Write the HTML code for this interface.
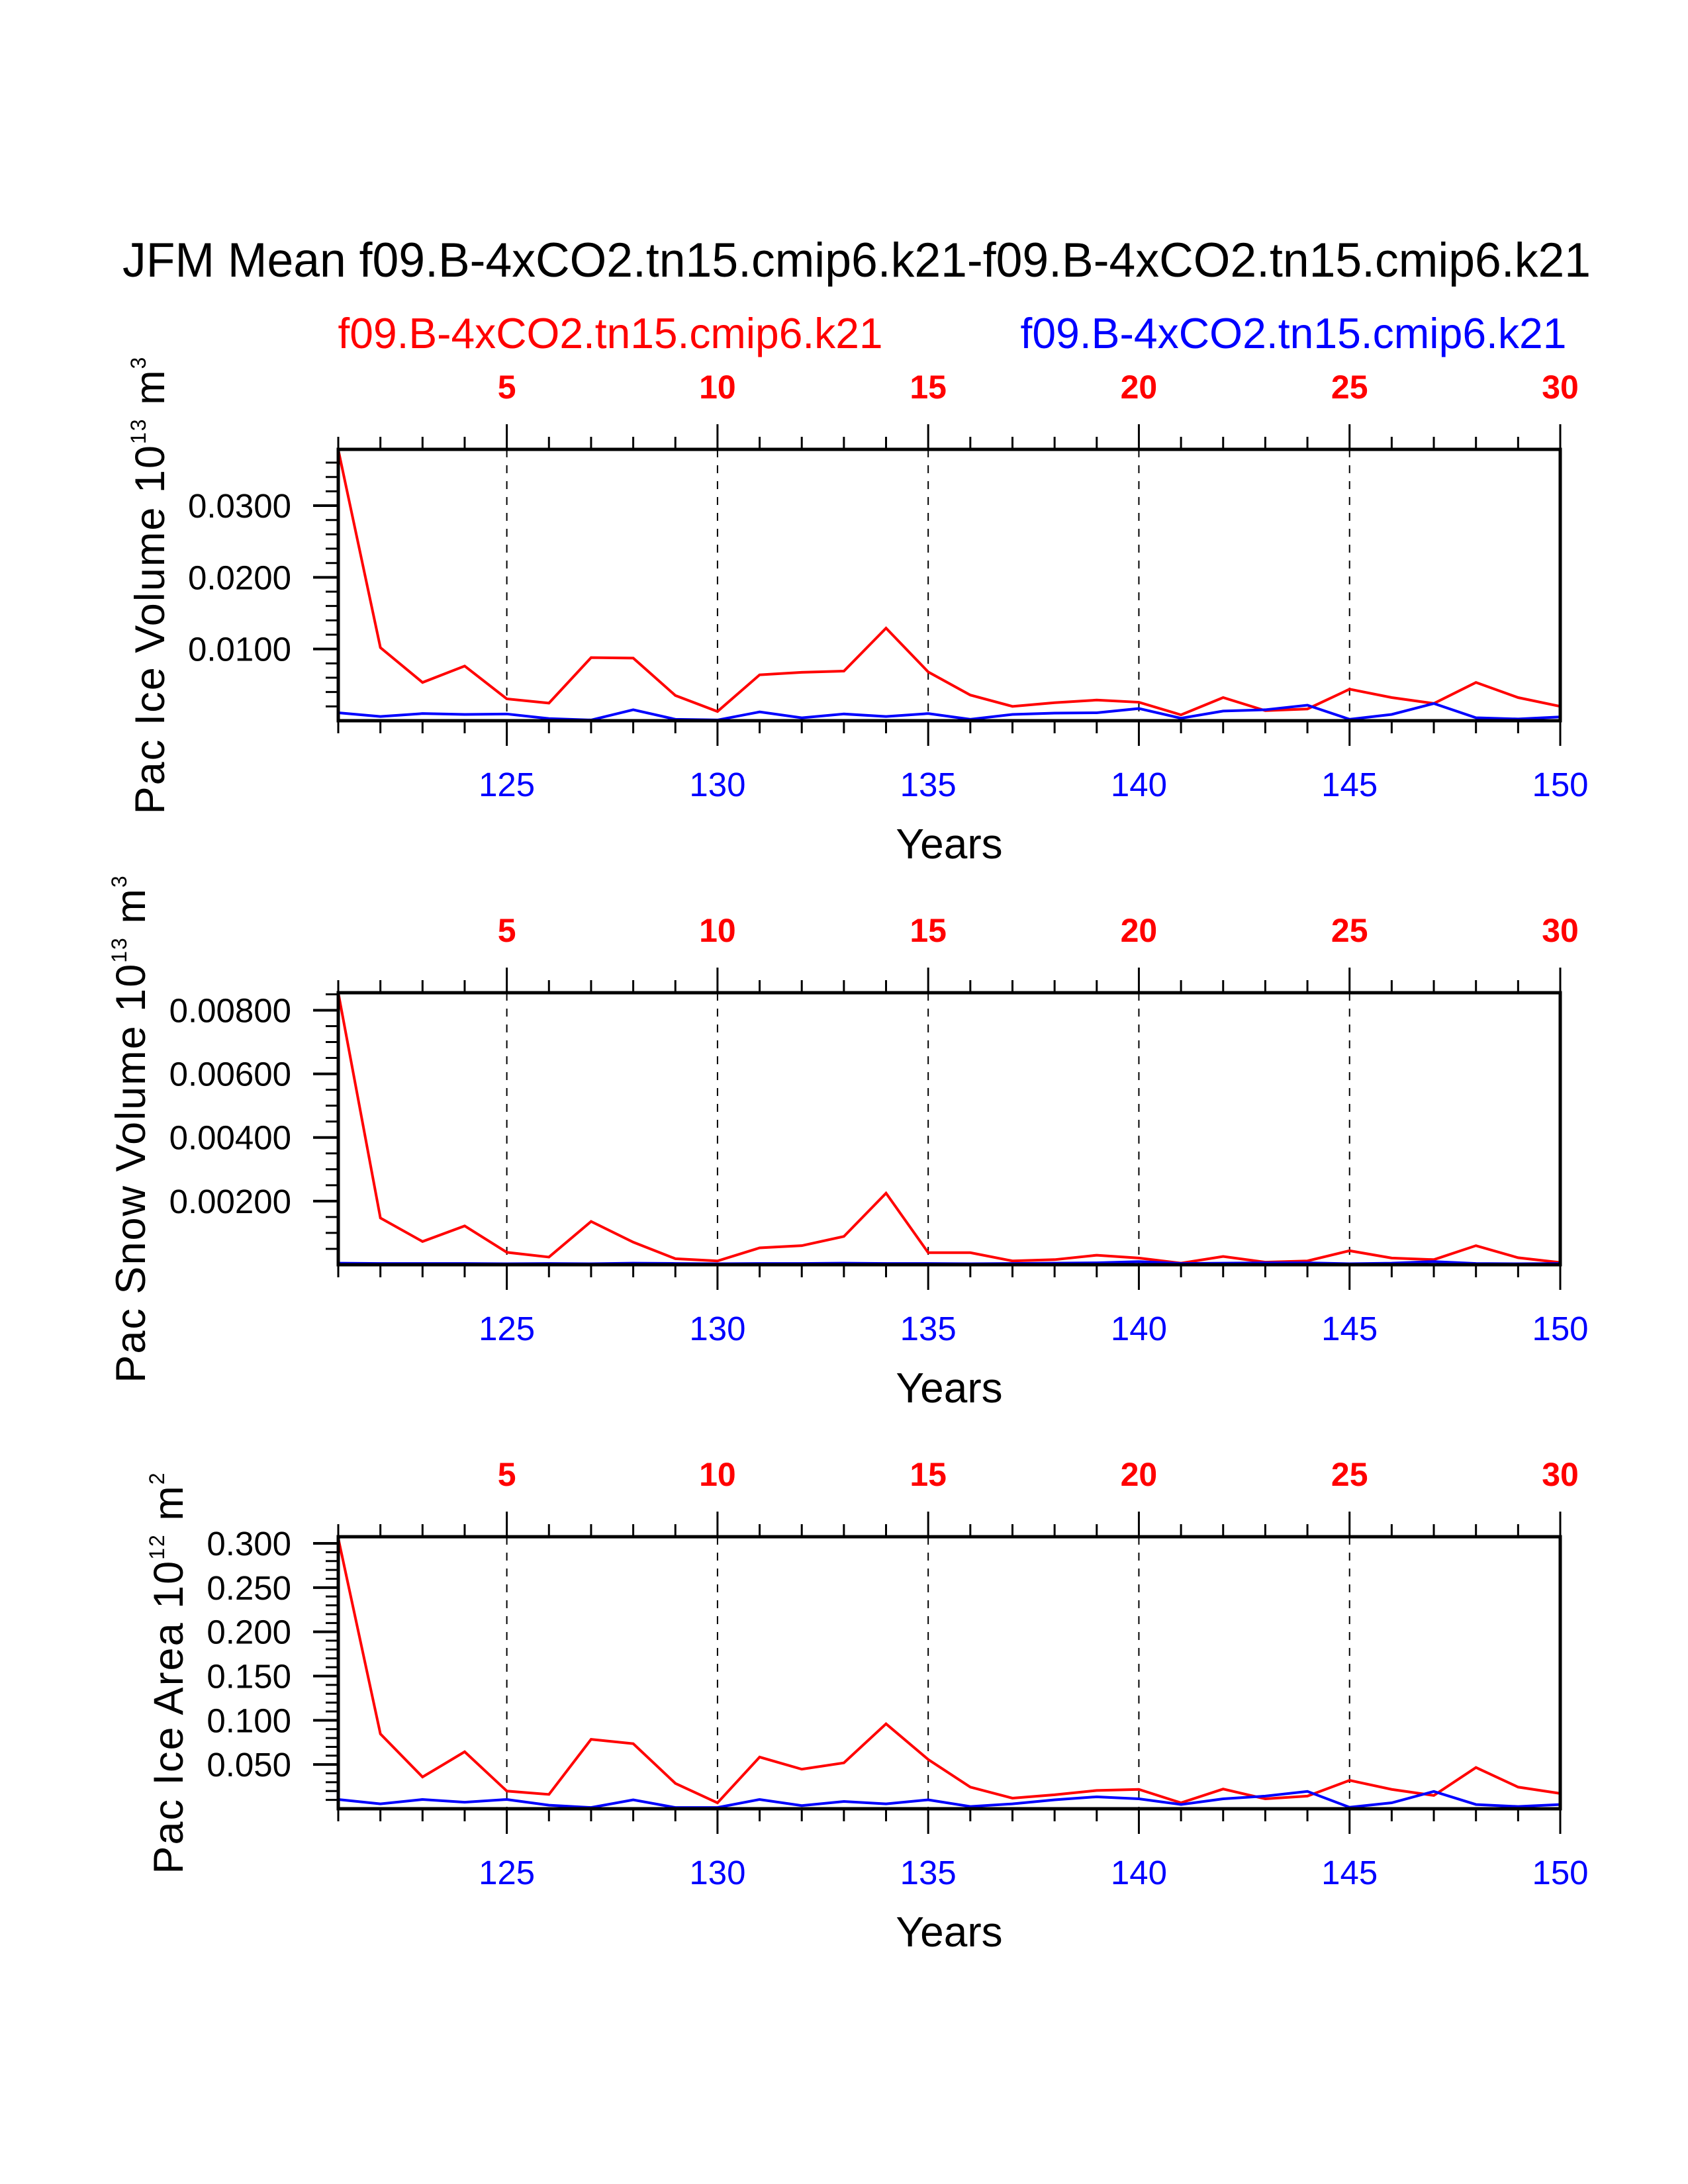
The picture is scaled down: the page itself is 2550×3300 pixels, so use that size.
<!DOCTYPE html>
<html><head><meta charset="utf-8"><style>
html,body{margin:0;padding:0;background:#fff;}
svg{display:block;font-family:"Liberation Sans",Arial,sans-serif;}
</style></head><body>
<svg id="chart" width="2550" height="3300" viewBox="0 0 2550 3300" xmlns="http://www.w3.org/2000/svg">
<rect width="2550" height="3300" fill="#fff"/>
<text x="1294" y="418" font-size="73" text-anchor="middle" textLength="2218" lengthAdjust="spacingAndGlyphs" fill="#000">JFM Mean f09.B-4xCO2.tn15.cmip6.k21-f09.B-4xCO2.tn15.cmip6.k21</text>
<text x="922" y="526" font-size="65" text-anchor="middle" textLength="823" lengthAdjust="spacingAndGlyphs" fill="#ff0000">f09.B-4xCO2.tn15.cmip6.k21</text>
<text x="1954" y="526" font-size="65" text-anchor="middle" textLength="825" lengthAdjust="spacingAndGlyphs" fill="#0000ff">f09.B-4xCO2.tn15.cmip6.k21</text>
<g id="panels"></g>
</svg>
<script>
const years = [121,122,123,124,125,126,127,128,129,130,131,132,133,134,135,136,137,138,139,140,141,142,143,144,145,146,147,148,149,150];
const iceVolRed = [0.0378,0.0102,0.00534,0.00763,0.00305,0.00246,0.0088,0.00874,0.00352,0.00129,0.0064,0.00675,0.00692,0.01291,0.00681,0.00358,0.002,0.00252,0.00288,0.00258,0.00082,0.00323,0.00141,0.00164,0.0044,0.00323,0.00241,0.00534,0.00323,0.002];
const iceVolBlue = [0.00111,0.00059,0.001,0.00088,0.00094,0.0003,0.0001,0.00153,0.0002,0.0001,0.00123,0.00041,0.00094,0.00059,0.001,0.0002,0.00088,0.00106,0.00111,0.0017,0.00035,0.00135,0.00153,0.00217,0.0002,0.00088,0.0024,0.00041,0.00024,0.00053];
const snowVolRed = [0.00855,0.00147,0.00073,0.00122,0.00039,0.00024,0.00136,0.00071,0.00019,0.00012,0.00053,0.0006,0.00089,0.00225,0.00038,0.00038,0.00012,0.00016,0.0003,0.00021,0.00005,0.00026,0.00008,0.00012,0.00044,0.00021,0.00016,0.0006,0.00022,0.00007];
const snowVolBlue = [0.00005,0.00004,0.00004,0.00004,0.00003,0.00004,0.00003,0.00005,0.00004,0.00003,0.00004,0.00004,0.00005,0.00004,0.00004,0.00003,0.00004,0.00005,0.00006,0.0001,0.00004,0.00005,0.00006,0.00006,0.00003,0.00005,0.0001,0.00004,0.00003,0.00004];
const iceAreaRed = [0.3057,0.0846,0.0359,0.0644,0.02,0.0162,0.0785,0.0736,0.0287,0.0067,0.0584,0.0447,0.0519,0.096,0.0557,0.0245,0.012,0.0158,0.0207,0.0219,0.0067,0.0223,0.0112,0.0143,0.0321,0.0219,0.015,0.0466,0.0245,0.0173];
const iceAreaBlue = [0.0105,0.0055,0.0105,0.0074,0.0105,0.004,0.0014,0.0101,0.0014,0.0014,0.0105,0.0036,0.0082,0.0055,0.0101,0.0025,0.0055,0.0101,0.0135,0.0112,0.0048,0.0112,0.0143,0.0196,0.0017,0.0067,0.0196,0.0048,0.0025,0.0048];
const topTickLabels = ["5","10","15","20","25","30"];
const bottomTickLabels = ["125","130","135","140","145","150"];
const iceVolTicks = ["0.0100","0.0200","0.0300"];
const snowVolTicks = ["0.00200","0.00400","0.00600","0.00800"];
const iceAreaTicks = ["0.050","0.100","0.150","0.200","0.250","0.300"];

const NS = "http://www.w3.org/2000/svg";
const root = document.getElementById('panels');
function mk(tag, attrs, parent){const e=document.createElementNS(NS,tag);for(const k in attrs)e.setAttribute(k,attrs[k]);parent.appendChild(e);return e;}

const X0=511, X1=2357;
function xScale(y){return X0+(y-121)*(X1-X0)/29;}

const panels = [
 {name:'ice-volume', top:679, bot:1089, ymax:0.03785, minor:0.002, ticks:iceVolTicks, red:iceVolRed, blue:iceVolBlue, ytx:248, title:['Pac Ice Volume 10','13',' m','3']},
 {name:'snow-volume', top:1500, bot:1911, ymax:0.00855, minor:0.0005, ticks:snowVolTicks, red:snowVolRed, blue:snowVolBlue, ytx:219, title:['Pac Snow Volume 10','13',' m','3']},
 {name:'ice-area', top:2322, bot:2733, ymax:0.3075, minor:0.01, ticks:iceAreaTicks, red:iceAreaRed, blue:iceAreaBlue, ytx:276, title:['Pac Ice Area 10','12',' m','2']}
];

panels.forEach(p=>{
  const g = mk('g',{},root);
  
  
  const yS = v => p.bot - v/p.ymax*(p.bot-p.top);
  years.forEach(y=>{
    if(y%5===0 && y>121 && y<150){
      const l=mk('line',{x1:xScale(y),x2:xScale(y),y1:p.top,y2:p.bot,stroke:'#000','stroke-width':2,'stroke-dasharray':'12,12'},g);
      
      
    }
  });
  years.forEach(y=>{
    const major = y%5===0; const len = major?38:19; const x=xScale(y);
    mk('line',{x1:x,x2:x,y1:p.top,y2:p.top-len,stroke:'#000','stroke-width':3},g);
    mk('line',{x1:x,x2:x,y1:p.bot,y2:p.bot+len,stroke:'#000','stroke-width':3},g);
  });
  const nMinor = Math.floor(p.ymax/p.minor+1e-6);
  for(let i=1;i<=nMinor;i++){
    const v=i*p.minor; const yy=yS(v);
    const major = p.ticks.some(t=>Math.abs(parseFloat(t)-v)<p.minor/10);
    mk('line',{x1:X0,x2:X0-(major?38:19),y1:yy,y2:yy,stroke:'#000','stroke-width':major?4:3},g);
  }
  p.ticks.forEach(t=>{
    const tx=mk('text',{x:440,y:yS(parseFloat(t))+18,'font-size':51,'text-anchor':'end',fill:'#000'},g);
    tx.textContent=t;
    
    
  });
  topTickLabels.forEach(t=>{
    const tx=mk('text',{x:xScale(120+parseInt(t)),y:p.top-77,'font-size':50,'font-weight':'bold','text-anchor':'middle',fill:'#ff0000'},g);
    tx.textContent=t;
    
    
  });
  bottomTickLabels.forEach(t=>{
    const tx=mk('text',{x:xScale(parseInt(t)),y:p.bot+114,'font-size':51,'text-anchor':'middle',fill:'#0000ff'},g);
    tx.textContent=t;
    
    
  });
  const xt=mk('text',{x:1434,y:p.bot+208,'font-size':64,'text-anchor':'middle',fill:'#000'},g);
  xt.textContent='Years';
  
  
  const cy=(p.top+p.bot)/2;
  const yt=mk('text',{x:0,y:0,'font-size':63,'letter-spacing':2,'text-anchor':'middle',fill:'#000',transform:`translate(${p.ytx},${cy}) rotate(-90)`},g);
  
  
  const t1=mk('tspan',{},yt); t1.textContent=p.title[0];
  const t2=mk('tspan',{dy:-28,'font-size':32},yt); t2.textContent=p.title[1];
  const t3=mk('tspan',{dy:28},yt); t3.textContent=p.title[2];
  const t4=mk('tspan',{dy:-28,'font-size':32},yt); t4.textContent=p.title[3];
  const pts = arr => arr.map((v,i)=>xScale(years[i])+','+yS(v)).join(' ');
  const rl=mk('polyline',{points:pts(p.red),fill:'none',stroke:'#ff0000','stroke-width':4,'stroke-linejoin':'miter'},g);
  
  
  const bl=mk('polyline',{points:pts(p.blue),fill:'none',stroke:'#0000ff','stroke-width':4,'stroke-linejoin':'miter'},g);
  
  
  const fr=mk('rect',{x:X0,y:p.top,width:X1-X0,height:p.bot-p.top,fill:'none',stroke:'#000','stroke-width':5},g);
  
  
});
</script>
</body></html>
